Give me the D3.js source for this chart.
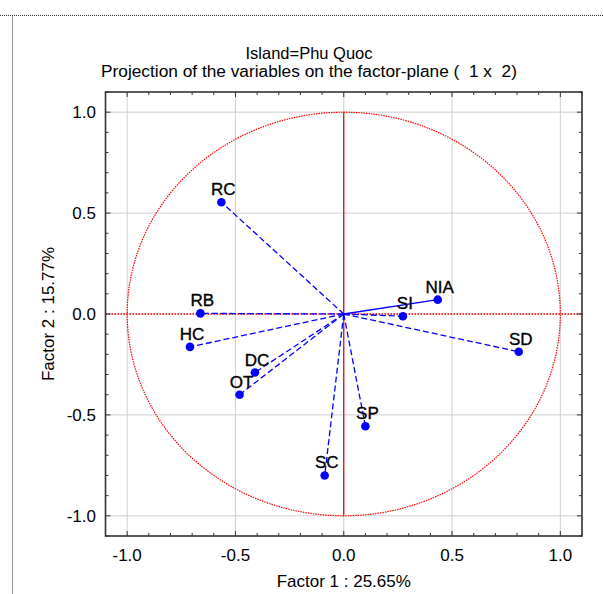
<!DOCTYPE html>
<html>
<head>
<meta charset="utf-8">
<script src="https://cdn.jsdelivr.net/npm/d3@7"></script>
<style>
  body { margin: 0; background: #fff; }
  text { font-family: Arial, "Liberation Sans", sans-serif; fill: #000; white-space: pre; }
</style>
</head>
<body>
<svg id="Target" width="603" height="594"></svg>
<script>

// variables projected on the factor plane
const names = ["RC", "RB", "HC", "DC", "OT", "NIA", "SI", "SD", "SP", "SC"];
const factor1 = [-0.565, -0.662, -0.71, -0.41, -0.481, 0.434, 0.273, 0.808, 0.10, -0.088];
const factor2 = [0.554, 0.003, -0.163, -0.29, -0.40, 0.071, -0.011, -0.187, -0.556, -0.80];
const solidLines = ["NIA"];

const majorTicks = [-1.0, -0.5, 0.0, 0.5, 1.0];
const minorTicks = d3.range(-11, 12).map(i => i / 10);

const titleLines = ["Island=Phu Quoc", "Projection of the variables on the factor-plane (  1 x  2)"];
const xTitle = "Factor 1 : 25.65%";
const yTitle = "Factor 2 : 15.77%";

const svg = d3.select("#Target");

const plotLeft = 105.5, plotRight = 582, plotTop = 92, plotBottom = 536;

const x = d3.scaleLinear().domain([-1.1, 1.1]).range([plotLeft, plotRight]);
const y = d3.scaleLinear().domain([-1.1, 1.1]).range([plotBottom, plotTop]);

const fmt = v => d3.format(".1f")(v).replace("\u2212", "-");

// dotted outer border
svg.append("path")
    .attr("d", `M0,15.5H603M12.5,15.5V594`)
    .attr("stroke", "#333")
    .attr("stroke-dasharray", "1,1")
    .attr("fill", "none");

// grid
svg.append("g")
    .selectAll("line")
    .data(majorTicks)
    .enter()
    .append("line")
    .attr("x1", d => x(d)).attr("x2", d => x(d))
    .attr("y1", plotTop).attr("y2", plotBottom)
    .attr("stroke", "#cfcfcf");

svg.append("g")
    .selectAll("line")
    .data(majorTicks)
    .enter()
    .append("line")
    .attr("x1", plotLeft).attr("x2", plotRight)
    .attr("y1", d => y(d)).attr("y2", d => y(d))
    .attr("stroke", "#cfcfcf");

// unit circle and red axes
const circle = d3.range(0, 361, 2).map(a => [
    x(Math.cos(a * Math.PI / 180)),
    y(Math.sin(a * Math.PI / 180))
]);

svg.append("path")
    .attr("d", d3.line()(circle))
    .attr("fill", "none")
    .attr("stroke", "#ff0000")
    .attr("stroke-width", 1.2)
    .attr("stroke-dasharray", "1.5,1");

svg.append("line")
    .attr("x1", x(-1.1)).attr("x2", x(1.1))
    .attr("y1", y(0)).attr("y2", y(0))
    .attr("stroke", "#ff0000")
    .attr("stroke-width", 1.6)
    .attr("stroke-dasharray", "1.5,1.5");

svg.append("line")
    .attr("x1", x(0)).attr("x2", x(0))
    .attr("y1", y(1)).attr("y2", y(-1))
    .attr("stroke", "#e00000")
    .attr("stroke-width", 1.2);

// vectors from origin
svg.append("g")
    .selectAll("line")
    .data(names)
    .enter()
    .append("line")
    .attr("x1", x(0)).attr("y1", y(0))
    .attr("x2", (d, i) => x(factor1[i]))
    .attr("y2", (d, i) => y(factor2[i]))
    .attr("stroke", "#0000ff")
    .attr("stroke-width", 1.3)
    .attr("stroke-dasharray", d => solidLines.includes(d) ? null : "6,3");

svg.append("g")
    .selectAll("circle")
    .data(names)
    .enter()
    .append("circle")
    .attr("cx", (d, i) => x(factor1[i]))
    .attr("cy", (d, i) => y(factor2[i]))
    .attr("r", 4.3)
    .attr("fill", "#0000ff");

svg.append("g")
    .selectAll("text")
    .data(names)
    .enter()
    .append("text")
    .attr("x", (d, i) => x(factor1[i]) + 2)
    .attr("y", (d, i) => y(factor2[i]) - 7)
    .attr("text-anchor", "middle")
    .attr("font-size", 17)
    .attr("stroke", "#000")
    .attr("stroke-width", 0.35)
    .text(d => d);

// frame
svg.append("rect")
    .attr("x", plotLeft).attr("y", plotTop)
    .attr("width", plotRight - plotLeft).attr("height", plotBottom - plotTop)
    .attr("fill", "none")
    .attr("stroke", "#333")
    .attr("stroke-width", 1.6);

// inward ticks on all four sides
const tickLen = d => majorTicks.some(m => Math.abs(m - d) < 1e-9) ? 5 : 3;
const ticks = svg.append("g").attr("stroke", "#333");

minorTicks.forEach(d => {
    const t = tickLen(d);
    ticks.append("line").attr("x1", x(d)).attr("x2", x(d)).attr("y1", plotBottom).attr("y2", plotBottom - t);
    ticks.append("line").attr("x1", x(d)).attr("x2", x(d)).attr("y1", plotTop).attr("y2", plotTop + t);
    ticks.append("line").attr("y1", y(d)).attr("y2", y(d)).attr("x1", plotLeft).attr("x2", plotLeft + t);
    ticks.append("line").attr("y1", y(d)).attr("y2", y(d)).attr("x1", plotRight).attr("x2", plotRight - t);
});

// tick labels
svg.append("g")
    .selectAll("text")
    .data(majorTicks)
    .enter()
    .append("text")
    .attr("x", d => x(d))
    .attr("y", 561)
    .attr("text-anchor", "middle")
    .attr("font-size", 17)
    .text(fmt);

svg.append("g")
    .selectAll("text")
    .data(majorTicks)
    .enter()
    .append("text")
    .attr("x", 96)
    .attr("y", d => y(d) + 6)
    .attr("text-anchor", "end")
    .attr("font-size", 17)
    .text(fmt);

// titles
svg.append("g")
    .selectAll("text")
    .data(titleLines)
    .enter()
    .append("text")
    .attr("x", 309)
    .attr("y", (d, i) => 59 + i * 18)
    .attr("text-anchor", "middle")
    .attr("font-size", (d, i) => i === 0 ? 16.5 : 17.3)
    .text(d => d);

svg.append("text")
    .attr("x", x(0))
    .attr("y", 587)
    .attr("text-anchor", "middle")
    .attr("font-size", 17)
    .text(xTitle);

svg.append("text")
    .attr("transform", `translate(54, ${y(0)}) rotate(-90)`)
    .attr("text-anchor", "middle")
    .attr("font-size", 17)
    .text(yTitle);

</script>
</body>
</html>
